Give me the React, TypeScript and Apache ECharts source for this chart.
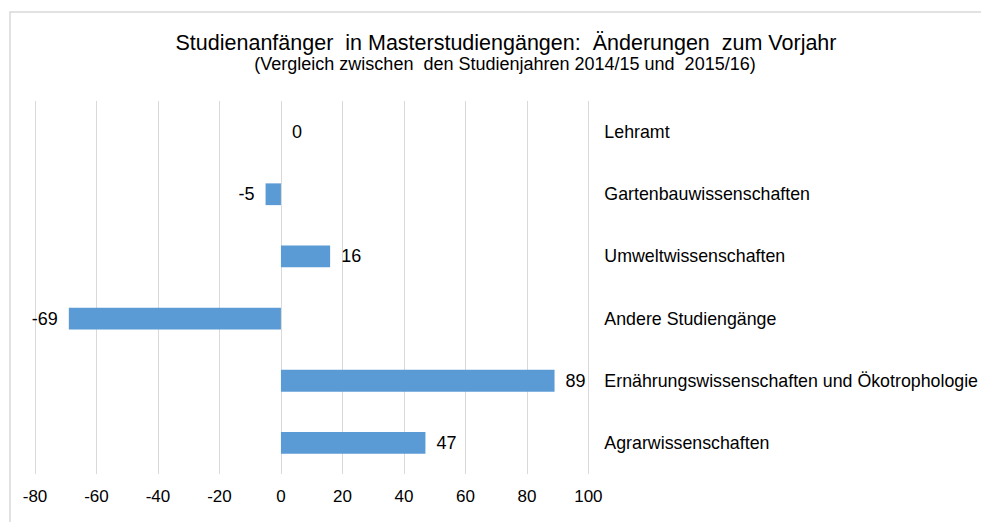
import React, { useEffect, useRef } from "react";
import * as echarts from "echarts";

const categories = [
  "Lehramt",
  "Gartenbauwissenschaften",
  "Umweltwissenschaften",
  "Andere Studiengänge",
  "Ernährungswissenschaften und Ökotrophologie",
  "Agrarwissenschaften",
];
const changes = [0, -5, 16, -69, 89, 47];
const titleText = "Studienanfänger  in Masterstudiengängen:  Änderungen  zum Vorjahr";
const subtitleText = "(Vergleich zwischen  den Studienjahren 2014/15 und  2015/16)";

export default function App() {
  const ref = useRef<HTMLDivElement>(null);
  useEffect(() => {
    document.body.style.margin = "0";
    const chart = echarts.init(ref.current!, null, { renderer: "svg" });
    const font = "Liberation Sans, Arial, sans-serif";
    chart.setOption({
      animation: false,
      backgroundColor: "#ffffff",
      textStyle: { fontFamily: font },
      graphic: [
        {
          type: "rect",
          shape: { x: 10, y: 12, width: 1000, height: 540 },
          style: { fill: "none", stroke: "#d9d9d9", lineWidth: 1.5 },
          silent: true,
          z: -1,
        },
      ],
      title: [
        {
          text: titleText,
          left: 501,
          textAlign: "center",
          top: 27,
          textStyle: { fontSize: 21.5, fontWeight: "normal", color: "#000", fontFamily: font },
        },
        {
          text: subtitleText,
          left: 500,
          textAlign: "center",
          top: 50,
          textStyle: { fontSize: 18, fontWeight: "normal", color: "#000", fontFamily: font },
        },
      ],
      grid: { left: 35, right: 392, top: 101, bottom: 48, containLabel: false },
      xAxis: {
        type: "value",
        min: -80,
        max: 100,
        interval: 20,
        axisLine: { show: false },
        axisTick: { show: false },
        splitLine: { show: true, lineStyle: { color: "#d9d9d9", width: 1 } },
        axisLabel: { fontSize: 17, color: "#000", margin: 14, fontFamily: font },
      },
      yAxis: {
        type: "category",
        data: categories,
        inverse: true,
        position: "right",
        axisLine: { show: false },
        axisTick: { show: false },
        splitLine: { show: false },
        axisLabel: { fontSize: 17.8, color: "#000", align: "left", margin: 16, fontFamily: font },
      },
      series: [
        {
          type: "bar",
          data: changes.map((v) => ({
            value: v,
            label: {
              show: true,
              position: v < 0 ? "left" : "right",
              distance: 11,
            },
          })),
          barWidth: "35%",
          itemStyle: { color: "#5b9bd5" },
          label: { fontSize: 18, color: "#000", fontFamily: font },
        },
      ],
    });
    return () => chart.dispose();
  }, []);
  return <div ref={ref} style={{ width: 981, height: 522 }} />;
}
